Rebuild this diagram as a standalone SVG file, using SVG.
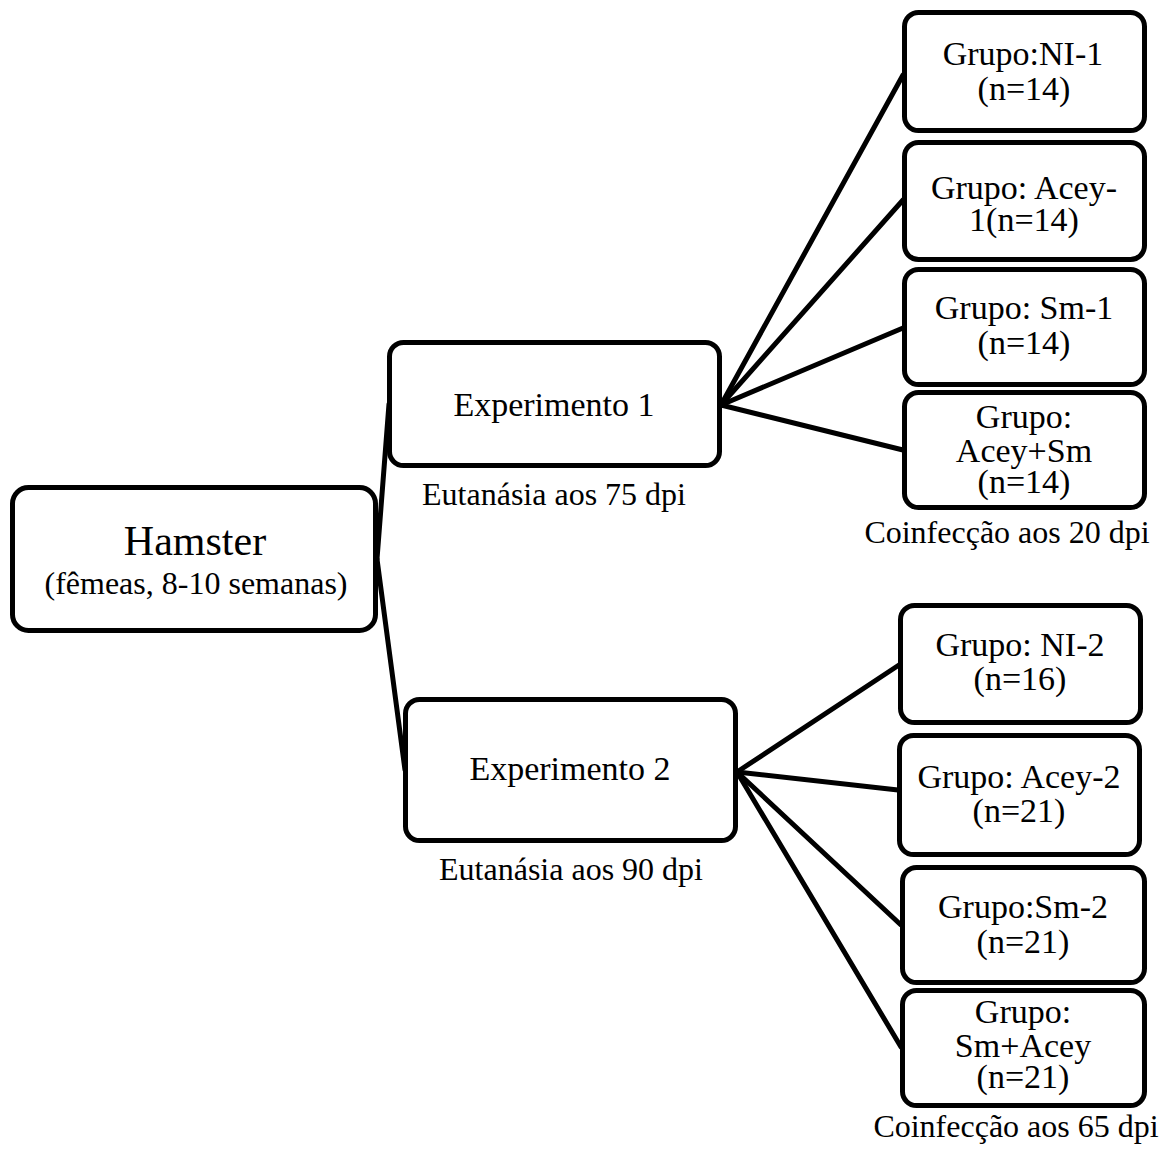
<svg xmlns="http://www.w3.org/2000/svg" width="1169" height="1153" viewBox="0 0 1169 1153">
<style>
.box{fill:#fff;stroke:#000;stroke-width:5}
.ln{stroke:#000;stroke-width:5;fill:none;stroke-linecap:round}
text{font-family:"Liberation Serif","Times New Roman",serif;fill:#000;text-anchor:middle}
.t{font-size:34px}
.s{font-size:32px}
.h{font-size:42px}
</style>
<rect width="1169" height="1153" fill="#fff"/>
<g id="connectors">
<line class="ln" x1="377" y1="559" x2="389" y2="404"/>
<line class="ln" x1="377" y1="559" x2="405" y2="770"/>
<line class="ln" x1="721" y1="405" x2="903" y2="75"/>
<line class="ln" x1="721" y1="405" x2="903" y2="200"/>
<line class="ln" x1="721" y1="405" x2="903" y2="328"/>
<line class="ln" x1="721" y1="405" x2="903" y2="450"/>
<line class="ln" x1="737" y1="772" x2="899" y2="665"/>
<line class="ln" x1="737" y1="772" x2="898" y2="790"/>
<line class="ln" x1="737" y1="772" x2="901" y2="925"/>
<line class="ln" x1="737" y1="772" x2="901" y2="1047"/>
</g>
<g id="hamster">
<rect class="box" x="12.5" y="487.5" width="363" height="143" rx="16"/>
<text class="h" x="195" y="555">Hamster</text>
<text class="s" x="196" y="594">(fêmeas, 8-10 semanas)</text>
</g>
<g id="exp1">
<rect class="box" x="389.5" y="342.5" width="330" height="123" rx="14"/>
<text class="t" x="554" y="416">Experimento 1</text>
<text class="s" x="554" y="505">Eutanásia aos 75 dpi</text>
</g>
<g id="exp2">
<rect class="box" x="405.5" y="699.5" width="330" height="141" rx="14"/>
<text class="t" x="570" y="780">Experimento 2</text>
<text class="s" x="571" y="880">Eutanásia aos 90 dpi</text>
</g>
<g id="ni1">
<rect class="box" x="904.5" y="12.5" width="240" height="118" rx="14"/>
<text class="t" x="1023" y="65">Grupo:NI-1</text>
<text class="t" x="1024" y="100">(n=14)</text>
</g>
<g id="acey1">
<rect class="box" x="904.5" y="142.5" width="240" height="117" rx="14"/>
<text class="t" x="1024" y="199">Grupo: Acey-</text>
<text class="t" x="1024" y="231">1(n=14)</text>
</g>
<g id="sm1">
<rect class="box" x="904.5" y="269.5" width="240" height="115" rx="14"/>
<text class="t" x="1024" y="319">Grupo: Sm-1</text>
<text class="t" x="1024" y="354">(n=14)</text>
</g>
<g id="aceysm">
<rect class="box" x="904.5" y="392.5" width="240" height="115" rx="14"/>
<text class="t" x="1024" y="428">Grupo:</text>
<text class="t" x="1024" y="462">Acey+Sm</text>
<text class="t" x="1024" y="493">(n=14)</text>
<text class="s" x="1007" y="543">Coinfecção aos 20 dpi</text>
</g>
<g id="ni2">
<rect class="box" x="900.5" y="605.5" width="240" height="117" rx="14"/>
<text class="t" x="1020" y="656">Grupo: NI-2</text>
<text class="t" x="1020" y="690">(n=16)</text>
</g>
<g id="acey2">
<rect class="box" x="899.5" y="735.5" width="240" height="119" rx="14"/>
<text class="t" x="1019" y="788">Grupo: Acey-2</text>
<text class="t" x="1019" y="822">(n=21)</text>
</g>
<g id="sm2">
<rect class="box" x="902.5" y="867.5" width="242" height="115" rx="14"/>
<text class="t" x="1023" y="918">Grupo:Sm-2</text>
<text class="t" x="1023" y="953">(n=21)</text>
</g>
<g id="smacey">
<rect class="box" x="902.5" y="990.5" width="242" height="115" rx="14"/>
<text class="t" x="1023" y="1023">Grupo:</text>
<text class="t" x="1023" y="1057">Sm+Acey</text>
<text class="t" x="1023" y="1088">(n=21)</text>
<text class="s" x="1016" y="1137">Coinfecção aos 65 dpi</text>
</g>
</svg>
